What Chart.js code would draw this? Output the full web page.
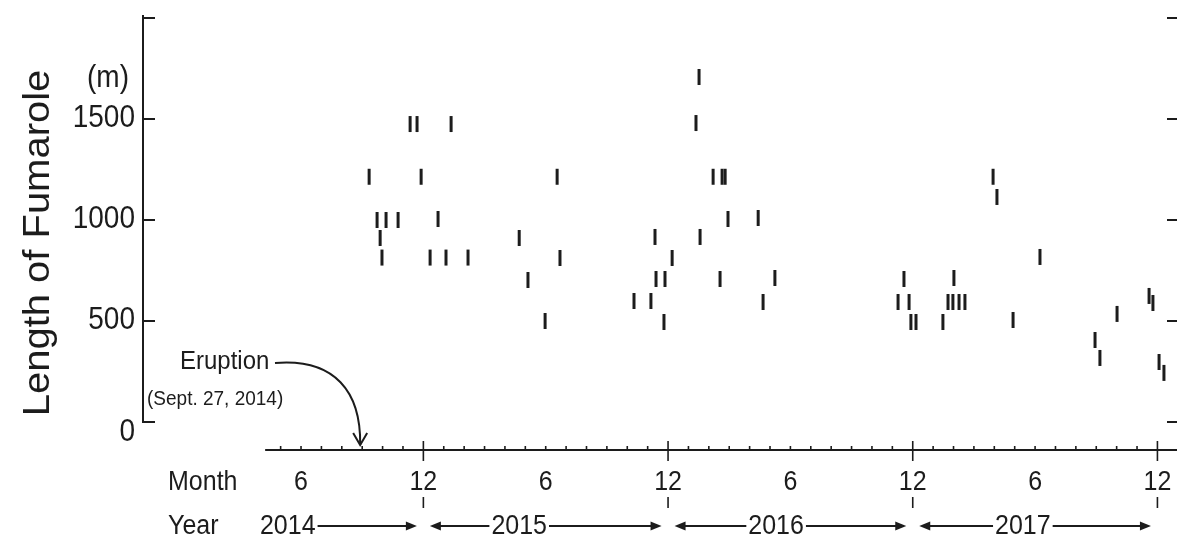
<!DOCTYPE html>
<html>
<head>
<meta charset="utf-8">
<script src="https://cdn.jsdelivr.net/npm/chart.js@4.4.1/dist/chart.umd.min.js"></script>
<style>
  html, body { margin: 0; background: #fff; overflow: hidden; }
  #wrap { width: 1177px; height: 539px; }
  canvas { display: block; }
</style>
</head>
<body>
<div id="wrap"><canvas id="c" width="1177" height="539"></canvas></div>
<script>
// Fumarole length survey after the Sept. 27, 2014 eruption.
// x = months counted from the end of 2013 (12 = end of Dec 2014), y = length in m.
const MONTHS = [
  9.34, 9.73, 10.17, 10.76, 9.88, 9.97, 11.35, 11.69, 11.89, 12.33, 12.72, 13.11, 13.36, 14.19,
  16.70, 17.13, 17.97, 18.56, 18.70,
  22.33, 23.16, 23.36, 23.41, 23.85, 23.80, 24.20,
  25.52, 25.37, 25.57, 26.21, 26.65, 26.80, 26.94, 26.55,
  28.42, 28.66, 29.24,
  35.28, 35.57, 35.82, 35.91, 36.16, 37.48, 37.73, 37.97, 38.02, 38.27, 38.56,
  39.94, 40.13, 40.92, 42.24, 44.94, 45.18, 46.02, 47.59, 47.78, 48.08, 48.32,
];
const LENGTHS = [
  1214, 1000, 1000, 1000, 911, 814, 1475, 1475, 1214, 814, 1005, 814, 1475, 814,
  911, 703, 500, 1214, 812,
  599, 599, 916, 708, 708, 495, 812,
  1708, 1480, 916, 1214, 1214, 1214, 1005, 708,
  1010, 594, 713,
  594, 708, 594, 495, 495, 495, 594, 594, 713, 594, 594,
  1214, 1114, 505, 817, 406, 317, 535, 624, 589, 297, 243,
];
const Y_TICKS = [0, 500, 1000, 1500, 2000];
const Y_LABELS = ["0", "500", "1000", "1500", ""];
const MONTH_TICKS = [6, 12, 18, 24, 30, 36, 42, 48];
const MONTH_LABELS = ["6", "12", "6", "12", "6", "12", "6", "12"];
const YEAR_ENDS = [12, 24, 36, 48];
const YEARS = ["2014", "2015", "2016", "2017"];
const YEAR_AT = [5.35, 16.7, 29.3, 41.4];
const ERUPTION = 8.9; // Sept. 27, 2014

const INK = "#1c1c1c";
const FONT = '"Liberation Sans", Arial, sans-serif';

function seg(ctx, x1, y1, x2, y2) {
  ctx.beginPath(); ctx.moveTo(x1, y1); ctx.lineTo(x2, y2); ctx.stroke();
}
// scanned figure is a little taller than wide, so stretch text vertically
function text(ctx, s, x, y, size, align = "center", sy = 1.1) {
  ctx.save();
  ctx.translate(x, y); ctx.scale(1, sy);
  ctx.font = `${size}px ${FONT}`;
  ctx.textAlign = align; ctx.textBaseline = "middle";
  ctx.fillText(s, 0, 0);
  ctx.restore();
}
function arrowHead(ctx, x, y, dir) {
  ctx.beginPath();
  ctx.moveTo(x, y); ctx.lineTo(x - dir * 11, y - 4.5); ctx.lineTo(x - dir * 11, y + 4.5);
  ctx.closePath(); ctx.fill();
}

const axes = {
  id: "axes",
  afterDraw(chart) {
    const { ctx, chartArea: a, scales: { x, y } } = chart;
    ctx.save();
    ctx.strokeStyle = INK; ctx.fillStyle = INK; ctx.lineWidth = 2;

    // y axis (left) and tick marks mirrored on the right edge
    const y0 = y.getPixelForValue(0);
    seg(ctx, a.left, a.top - 3, a.left, y0 + 1);
    Y_TICKS.forEach((v, i) => {
      const py = y.getPixelForValue(v);
      seg(ctx, a.left, py, a.left + 12, py);
      seg(ctx, a.right - 10, py, a.right, py);
      if (Y_LABELS[i]) text(ctx, Y_LABELS[i], a.left - 8, py + (v === 0 ? 11 : 0), 28, "right");
    });
    text(ctx, "(m)", 108, 79, 28);

    ctx.save();
    ctx.translate(49, 243); ctx.rotate(-Math.PI / 2); ctx.scale(1.08, 1);
    ctx.font = `37px ${FONT}`; ctx.textAlign = "center"; ctx.textBaseline = "alphabetic";
    ctx.fillText("Length of Fumarole", 0, 0);
    ctx.restore();

    // time axis
    const ay = a.bottom + 28;
    seg(ctx, x.getPixelForValue(4.24), ay, a.right, ay);
    ctx.lineWidth = 1.6;
    for (let m = 5; m <= 48; m++) {
      const px = x.getPixelForValue(m);
      if (YEAR_ENDS.includes(m)) seg(ctx, px, ay - 9, px, ay + 11);
      else seg(ctx, px, ay - 4, px, ay);
    }
    text(ctx, "Month", 168, 482, 25, "left");
    MONTH_TICKS.forEach((m, i) => text(ctx, MONTH_LABELS[i], x.getPixelForValue(m), 482, 25));

    // year row
    text(ctx, "Year", 168, 526, 25, "left");
    ctx.lineWidth = 1.6;
    YEAR_ENDS.forEach((m) => { const px = x.getPixelForValue(m); seg(ctx, px, 497, px, 508); });
    ctx.font = `25px ${FONT}`;
    YEARS.forEach((yr, i) => {
      const px = x.getPixelForValue(YEAR_AT[i]);
      const w = ctx.measureText(yr).width;
      text(ctx, yr, px, 526, 25);
      ctx.lineWidth = 2;
      if (i > 0) {
        const tip = x.getPixelForValue(YEAR_ENDS[i - 1]) + 6.5;
        seg(ctx, px - w / 2 - 2, 526, tip + 6, 526);
        arrowHead(ctx, tip, 526, -1);
      }
      const tip = x.getPixelForValue(YEAR_ENDS[i]) - 6.5;
      seg(ctx, px + w / 2 + 2, 526, tip - 6, 526);
      arrowHead(ctx, tip, 526, 1);
    });

    // eruption annotation
    text(ctx, "Eruption", 180, 362, 24, "left");
    text(ctx, "(Sept. 27, 2014)", 147, 399, 19, "left");
    const ex = x.getPixelForValue(ERUPTION), ey = ay - 5;
    ctx.lineWidth = 2;
    ctx.beginPath();
    ctx.moveTo(275, 363);
    ctx.bezierCurveTo(335, 358, ex + 1, 392, ex, ey);
    ctx.stroke();
    ctx.beginPath();
    ctx.moveTo(ex - 7, ey - 12); ctx.lineTo(ex, ey); ctx.lineTo(ex + 7, ey - 12);
    ctx.stroke();

    ctx.restore();
  },
};

new Chart(document.getElementById("c"), {
  type: "scatter",
  data: {
    datasets: [{
      data: MONTHS.map((m, i) => ({ x: m, y: LENGTHS[i] })),
      pointStyle: "line",
      pointRotation: 90,
      pointRadius: 8,
      pointBorderWidth: 3,
      pointBorderColor: INK,
      pointBackgroundColor: INK,
    }],
  },
  options: {
    responsive: false,
    animation: false,
    events: [],
    layout: { autoPadding: false, padding: { left: 143, right: 0, top: 18, bottom: 117 } },
    plugins: { legend: { display: false }, tooltip: { enabled: false } },
    scales: {
      x: { type: "linear", min: -1.75, max: 48.96, display: false },
      y: { min: 0, max: 2000, display: false },
    },
  },
  plugins: [axes],
});
</script>
</body>
</html>
